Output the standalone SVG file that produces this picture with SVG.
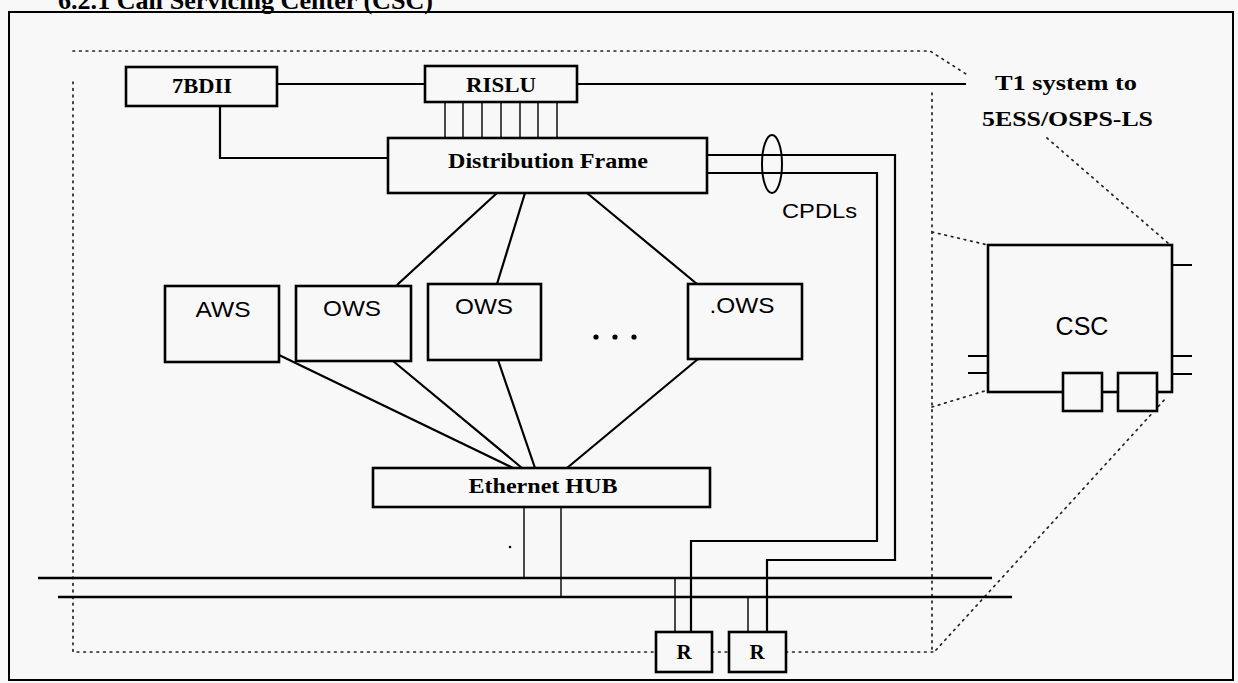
<svg xmlns="http://www.w3.org/2000/svg" width="1238" height="683" viewBox="0 0 1238 683">
<style>
.bx{fill:#f8f8f8;stroke:#000;stroke-width:2.6}
.ln{fill:none;stroke:#000;stroke-width:2.2}
.th{fill:none;stroke:#000;stroke-width:1.4}
.bus{fill:none;stroke:#000;stroke-width:2.6}
.dot{fill:none;stroke:#222;stroke-width:1.7;stroke-dasharray:1.6 5;stroke-linecap:round}
.sf{font-family:"Liberation Serif","Times New Roman",serif;fill:#000}
.ss{font-family:"Liberation Sans",Arial,sans-serif;fill:#000}
</style>
<rect x="0" y="0" width="1238" height="683" fill="#f8f8f8"/>
<text class="sf" x="58" y="9" font-size="26" font-weight="bold" textLength="375" lengthAdjust="spacingAndGlyphs">6.2.1  Call Servicing Center (CSC)</text>
<rect x="9" y="12" width="1224" height="668" fill="none" stroke="#000" stroke-width="2"/>

<g id="boundary">
<path class="dot" d="M73,51 H930 L966,74"/>
<path class="dot" d="M73,82 V652 H656 M712,652 H729 M786,652 H936"/>
<path class="dot" d="M932,93 V650"/>
<path class="dot" d="M936,650 L1167,397"/>
<path class="dot" d="M932,232 L988,245 M932,407 L988,390 M1047,138 L1168,243"/>
</g>

<g id="connectors">
<path class="ln" d="M277,84 H425"/>
<path class="ln" d="M577,84 H966"/>
<path class="ln" d="M220,106 V158 H388"/>
<path class="th" d="M445,102 V138 M463,102 V138 M482,102 V138 M501,102 V138 M520,102 V138 M538,102 V138 M557,102 V138"/>
<path class="ln" d="M707,155 H895 V560 H767 V632"/>
<path class="ln" d="M707,173 H877 V541 H691 V632"/>
<ellipse cx="772" cy="164" rx="10" ry="29" fill="none" stroke="#000" stroke-width="2"/>
<path class="ln" d="M497,193 L397,285 M525,193 L497,284 M587,193 L697,284"/>
<path class="ln" d="M279,355 L513,468 M393,361 L522,468 M498,360 L535,468 M698,359 L567,468"/>
<path class="th" d="M524,507 V578 M561,507 V597"/>
<path class="bus" d="M38,578 H992 M58,597 H1012"/>
<path class="th" d="M675,578 V632 M748,597 V632"/>
<circle cx="510" cy="547" r="1.3" fill="#000"/>
</g>

<g id="n7bdii">
<rect class="bx" x="126" y="67" width="151" height="39"/>
<text class="sf" x="202" y="93" font-size="20" font-weight="bold" text-anchor="middle" textLength="60" lengthAdjust="spacingAndGlyphs">7BDII</text>
</g>
<g id="rislu">
<rect class="bx" x="425" y="66" width="152" height="36"/>
<text class="sf" x="501" y="92" font-size="20" font-weight="bold" text-anchor="middle" textLength="70" lengthAdjust="spacingAndGlyphs">RISLU</text>
</g>
<g id="distframe">
<rect class="bx" x="388" y="138" width="319" height="55"/>
<text class="sf" x="548" y="168" font-size="21" font-weight="bold" text-anchor="middle" textLength="200" lengthAdjust="spacingAndGlyphs">Distribution Frame</text>
</g>
<text class="ss" x="782" y="218" font-size="21" textLength="75" lengthAdjust="spacingAndGlyphs">CPDLs</text>

<g id="aws">
<rect class="bx" x="165" y="286" width="114" height="76"/>
<text class="ss" x="223" y="317" font-size="22" text-anchor="middle" textLength="55" lengthAdjust="spacingAndGlyphs">AWS</text>
</g>
<g id="ows1">
<rect class="bx" x="296" y="286" width="115" height="75"/>
<text class="ss" x="352" y="316" font-size="22" text-anchor="middle" textLength="58" lengthAdjust="spacingAndGlyphs">OWS</text>
</g>
<g id="ows2">
<rect class="bx" x="428" y="284" width="113" height="76"/>
<text class="ss" x="484" y="314" font-size="22" text-anchor="middle" textLength="58" lengthAdjust="spacingAndGlyphs">OWS</text>
</g>
<g id="ellipsis">
<circle cx="596" cy="337" r="2.6" fill="#000"/>
<circle cx="615" cy="337" r="2.6" fill="#000"/>
<circle cx="634" cy="337" r="2.6" fill="#000"/>
</g>
<g id="ows3">
<rect class="bx" x="688" y="284" width="114" height="75"/>
<text class="ss" x="742" y="313" font-size="22" text-anchor="middle" textLength="65" lengthAdjust="spacingAndGlyphs">.OWS</text>
</g>

<g id="hub">
<rect class="bx" x="373" y="468" width="337" height="39"/>
<text class="sf" x="543" y="493" font-size="20" font-weight="bold" text-anchor="middle" textLength="149" lengthAdjust="spacingAndGlyphs">Ethernet HUB</text>
</g>

<g id="r1">
<rect class="bx" x="656" y="632" width="56" height="40"/>
<text class="sf" x="684" y="659" font-size="21" font-weight="bold" text-anchor="middle">R</text>
</g>
<g id="r2">
<rect class="bx" x="729" y="632" width="57" height="40"/>
<text class="sf" x="757" y="659" font-size="21" font-weight="bold" text-anchor="middle">R</text>
</g>

<g id="t1label">
<text class="sf" x="995" y="90" font-size="22" font-weight="bold" textLength="142" lengthAdjust="spacingAndGlyphs">T1 system to</text>
<text class="sf" x="982" y="126" font-size="22" font-weight="bold" textLength="171" lengthAdjust="spacingAndGlyphs">5ESS/OSPS-LS</text>
</g>

<g id="csc">
<path class="ln" d="M1172,265 H1192 M1172,356 H1192 M1172,374 H1192 M968,356 H988 M968,373 H988"/>
<rect class="bx" x="988" y="245" width="184" height="147"/>
<text class="ss" x="1082" y="335" font-size="25" text-anchor="middle">CSC</text>
<rect class="bx" x="1063" y="373" width="39" height="38"/>
<rect class="bx" x="1118" y="373" width="39" height="38"/>
</g>
</svg>
